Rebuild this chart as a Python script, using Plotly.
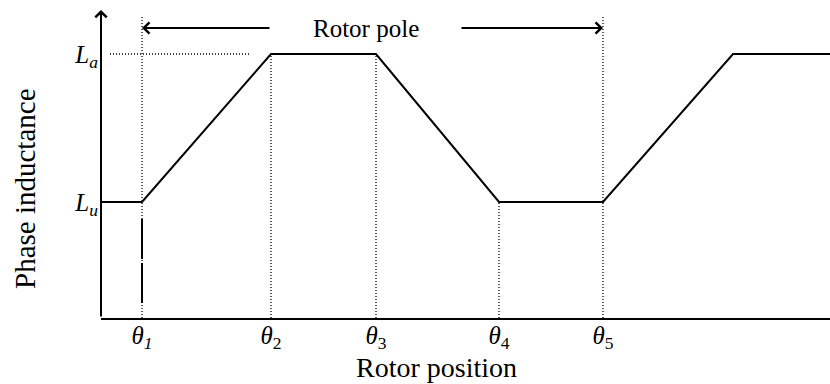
import plotly.graph_objects as go

# Inductance levels (unaligned / aligned) and rotor-position breakpoints
L_u = 116
L_a = 264
theta_pos = [41, 170, 275, 398, 502]
theta_labels = ["<i>θ</i><sub><i>1</i></sub>", "<i>θ</i><sub>2</sub>",
                "<i>θ</i><sub>3</sub>", "<i>θ</i><sub>4</sub>", "<i>θ</i><sub>5</sub>"]
theta_top = [302, L_a, L_a, L_u, 302]

# Phase inductance profile versus rotor position
profile_x = [0, 41, 170, 275, 398, 502, 632, 729]
profile_y = [L_u, L_u, L_a, L_a, L_u, L_u, L_a, L_a]

# Rotor pole span arrows
pole_y = 290
pole_left = (170, 41)    # tail, head
pole_right = (359, 502)  # tail, head

x_max = 729
y_max = 318
y_arrow_top = 308

FONT = "Liberation Serif, Times New Roman, serif"

fig = go.Figure()

# dotted guide lines down to the axis at each breakpoint
for xv, top in zip(theta_pos, theta_top):
    fig.add_trace(go.Scatter(
        x=[xv, xv], y=[0, top], mode="lines",
        line=dict(color="black", width=1.3, dash="1px,2px"),
        hoverinfo="skip", showlegend=False, cliponaxis=False))

# dotted guide for the aligned inductance level
fig.add_trace(go.Scatter(
    x=[9, 149], y=[L_a, L_a], mode="lines",
    line=dict(color="black", width=1.3, dash="1px,2px"),
    hoverinfo="skip", showlegend=False, cliponaxis=False))

# dashed marker under theta_1
fig.add_trace(go.Scatter(
    x=[theta_pos[0], theta_pos[0]], y=[99, 15], mode="lines",
    line=dict(color="black", width=2, dash="40px,4px"),
    hoverinfo="skip", showlegend=False, cliponaxis=False))

# inductance profile
fig.add_trace(go.Scatter(
    x=profile_x, y=profile_y, mode="lines",
    line=dict(color="black", width=2),
    hoverinfo="skip", showlegend=False, cliponaxis=False))

annotations = []
# y axis with arrow
annotations.append(dict(
    x=0, y=y_arrow_top, ax=0, ay=0, xref="x", yref="y", axref="x", ayref="y",
    showarrow=True, arrowhead=4, arrowsize=1.1, arrowwidth=2, arrowcolor="black",
    text=""))
# rotor pole arrows
for tail, head in (pole_left, pole_right):
    annotations.append(dict(
        x=head, y=pole_y, ax=tail, ay=pole_y, xref="x", yref="y", axref="x", ayref="y",
        showarrow=True, arrowhead=4, arrowsize=1.1, arrowwidth=2, arrowcolor="black",
        text=""))
annotations.append(dict(
    x=(pole_left[0] + pole_right[0]) / 2, y=pole_y, xref="x", yref="y",
    text="Rotor pole", showarrow=False,
    font=dict(family=FONT, size=25, color="black")))
# axis titles
annotations.append(dict(
    x=335, y=0, xref="x", yref="y", yshift=-49, yanchor="middle",
    text="Rotor position", showarrow=False,
    font=dict(family=FONT, size=28, color="black")))
annotations.append(dict(
    x=0, y=129, xref="x", yref="y", xshift=-76, xanchor="center",
    text="Phase inductance", textangle=-90, showarrow=False,
    font=dict(family=FONT, size=29, color="black")))

fig.update_layout(
    width=830, height=384,
    margin=dict(l=101, r=0, t=0, b=66),
    paper_bgcolor="white", plot_bgcolor="white",
    showlegend=False,
    annotations=annotations,
    xaxis=dict(
        range=[0, x_max], showgrid=False, zeroline=False,
        showline=True, linewidth=2, linecolor="black",
        tickmode="array", tickvals=theta_pos, ticktext=theta_labels,
        ticks="", ticklabelstandoff=-6,
        tickfont=dict(family=FONT, size=25, color="black")),
    yaxis=dict(
        range=[0, y_max], showgrid=False, zeroline=False, showline=False,
        tickmode="array", tickvals=[L_u, L_a],
        ticktext=["<i>L</i><sub><i>u</i></sub>", "<i>L</i><sub><i>a</i></sub>"],
        ticks="", ticklabelstandoff=2,
        tickfont=dict(family=FONT, size=25, color="black")),
)

fig.write_html("out.html")
